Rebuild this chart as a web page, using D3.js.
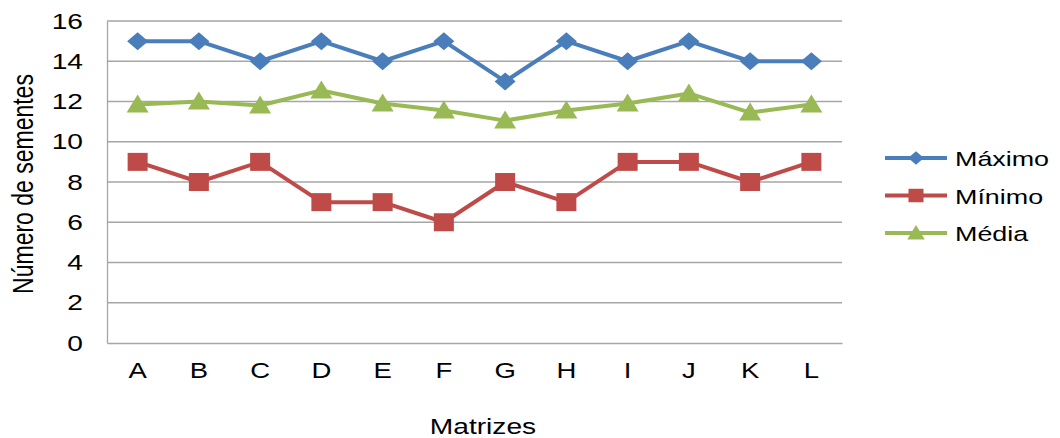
<!DOCTYPE html>
<html>
<head>
<meta charset="utf-8">
<script src="https://cdn.jsdelivr.net/npm/d3@7"></script>
<style>
  html, body { margin: 0; padding: 0; background: #fff; }
  svg text { font-family: "Liberation Sans", Arial, sans-serif; fill: #000; }
</style>
</head>
<body>
<svg id="chart" width="1060" height="438"></svg>
<script>
// Seeds per matrix: maximum, minimum and mean
const categories = ["A", "B", "C", "D", "E", "F", "G", "H", "I", "J", "K", "L"];
const maximo = [15, 15, 14, 15, 14, 15, 13, 15, 14, 15, 14, 14];
const minimo = [9, 8, 9, 7, 7, 6, 8, 7, 9, 9, 8, 9];
const media  = [11.85, 12.0, 11.8, 12.55, 11.9, 11.55, 11.05, 11.55, 11.9, 12.4, 11.45, 11.85];
const yTicks = [0, 2, 4, 6, 8, 10, 12, 14, 16];
const seriesNames = ["Máximo", "Mínimo", "Média"];

const series = [
  { name: seriesNames[0], values: maximo, color: "#4a7ebb", shape: "diamond" },
  { name: seriesNames[1], values: minimo, color: "#be4b48", shape: "square" },
  { name: seriesNames[2], values: media,  color: "#98b954", shape: "triangle" }
];

// Text is drawn slightly widened horizontally
const SX = 1.28;

const svg = d3.select("#chart");
const plot = { left: 107, right: 842, top: 21, bottom: 343 };

const x = d3.scaleBand().domain(categories).range([plot.left, plot.right]);
const y = d3.scaleLinear().domain([0, 16]).range([plot.bottom, plot.top]);

// Gridlines
svg.append("g")
  .selectAll("line")
  .data(yTicks.filter(t => t > 0))
  .join("line")
  .attr("x1", plot.left).attr("x2", plot.right)
  .attr("y1", d => y(d)).attr("y2", d => y(d))
  .attr("stroke", "#a6a6a6").attr("stroke-width", 1.3);

// Y axis
const yAxis = svg.append("g")
  .attr("transform", `translate(${plot.left},0)`)
  .call(d3.axisLeft(y).tickValues(yTicks).tickSize(0));
yAxis.select(".domain").attr("stroke", "#a6a6a6").attr("stroke-width", 1.3);
yAxis.selectAll("text")
  .attr("font-size", 22)
  .attr("font-family", "Liberation Sans, Arial, sans-serif")
  .attr("fill", "#000")
  .attr("x", -24 / SX)
  .attr("transform", `scale(${SX},1)`);

// X axis
const xAxis = svg.append("g")
  .attr("transform", `translate(0,${plot.bottom})`)
  .call(d3.axisBottom(x).tickSize(0));
xAxis.select(".domain").attr("stroke", "#a6a6a6").attr("stroke-width", 1.3);
xAxis.selectAll("text")
  .attr("font-size", 21.5)
  .attr("font-family", "Liberation Sans, Arial, sans-serif")
  .attr("fill", "#000")
  .attr("y", 35)
  .attr("dy", 0)
  .attr("transform", `scale(${SX},1)`);

// Axis titles
svg.append("text")
  .attr("transform", `translate(483,434) scale(${SX},1)`)
  .attr("text-anchor", "middle")
  .attr("font-size", 22)
  .text("Matrizes");

svg.append("text")
  .attr("transform", `translate(33,184) scale(${SX},1) rotate(-90)`)
  .attr("text-anchor", "middle")
  .attr("font-size", 23)
  .text("Número de sementes");

// Marker shapes centred on (0,0)
function markerPath(shape) {
  if (shape === "diamond") return "M0,-9 L10.5,0 L0,9 L-10.5,0 Z";
  if (shape === "square") return "M-10,-9 H10 V9 H-10 Z";
  return "M0,-10 L11,8 L-11,8 Z";
}

const line = d3.line()
  .x((d, i) => x(categories[i]) + x.bandwidth() / 2)
  .y(d => y(d));

series.forEach(s => {
  const g = svg.append("g");
  g.append("path")
    .attr("d", line(s.values))
    .attr("fill", "none")
    .attr("stroke", s.color)
    .attr("stroke-width", 4)
    .attr("stroke-linejoin", "round");
  g.selectAll("path.marker")
    .data(s.values)
    .join("path")
    .attr("class", "marker")
    .attr("d", markerPath(s.shape))
    .attr("transform", (d, i) => `translate(${x(categories[i]) + x.bandwidth() / 2},${y(d)})`)
    .attr("fill", s.color);
});

// Legend
const legend = svg.append("g").attr("transform", "translate(885,158)");
series.forEach((s, i) => {
  const row = legend.append("g").attr("transform", `translate(0,${i * 37.5})`);
  row.append("line")
    .attr("x1", 0).attr("x2", 62).attr("y1", 0).attr("y2", 0)
    .attr("stroke", s.color).attr("stroke-width", 4);
  row.append("path")
    .attr("d", markerPath(s.shape))
    .attr("transform", `translate(31,0) scale(${s.shape === "triangle" ? 0.8 : 0.75})`)
    .attr("fill", s.color);
  row.append("text")
    .attr("transform", `translate(70,8) scale(${SX},1)`)
    .attr("font-size", 21)
    .text(s.name);
});
</script>
</body>
</html>
